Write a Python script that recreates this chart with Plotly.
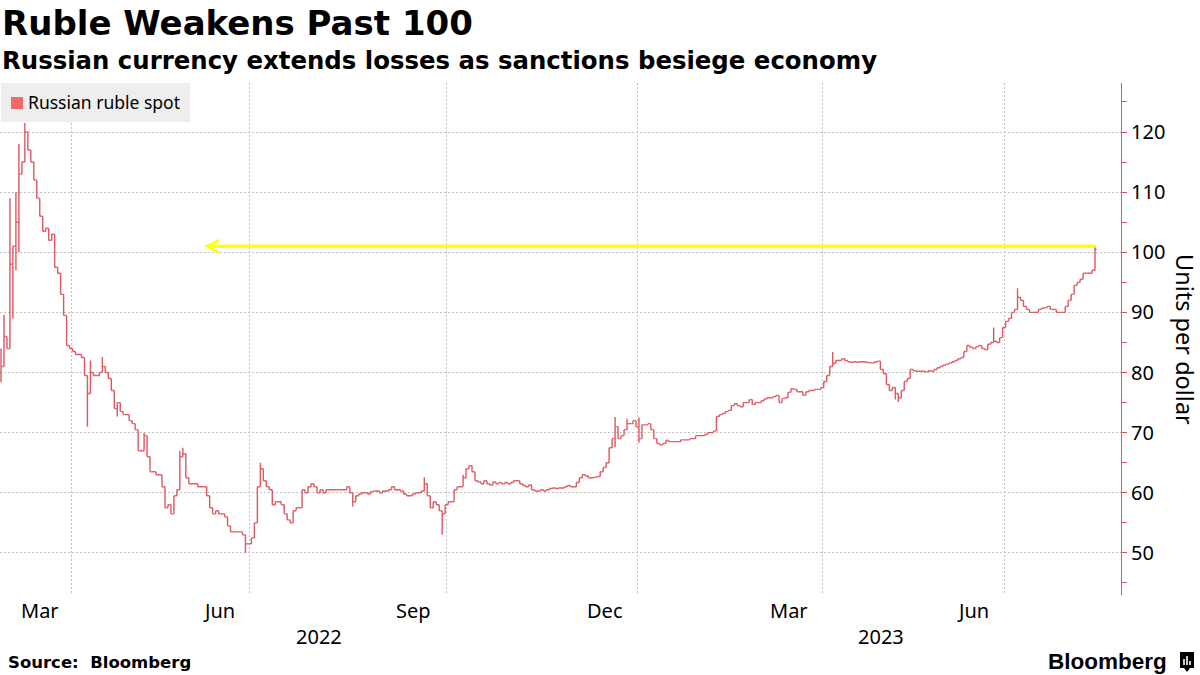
import plotly.graph_objects as go

# ---------------- data (daily closes) ----------------
close_2022_02 = [81.0, 86.0, 84.0]
close_2022_03 = [98, 101, 105, 113, 115, 120, 117, 115, 112, 109, 106, 103.5, 104, 102, 103,
                 97.5, 96.5, 93, 89.5, 84.5, 84]
close_2022_04 = [83.5, 83, 83, 82.5, 79.5, 76.5, 80, 79.5, 79.5, 80, 81, 80, 79, 77, 74, 75,
                 73.5, 73, 73, 72, 71.5]
close_2022_05 = [70.5, 67, 67, 69.5, 66, 63.5, 63.5, 63, 63, 61, 57.5, 58, 56.5, 59.5, 60.5,
                 66, 66.5, 62.5]
close_2022_06 = [61.5, 61.5, 61.5, 61, 61, 61, 59.5, 57.5, 56.5, 57, 56.5, 56.5, 56, 54.5,
                 53.5, 53.5, 53.5, 53.5, 53, 51.5, 51.5]
close_2022_07 = [52.5, 55, 61, 64, 62, 61, 60.5, 58, 58.5, 58.5, 58, 56.5, 55.5, 55, 57, 57.5,
                 57.5, 60.5, 60, 61, 61.5]
close_2022_08 = [61, 60, 60.5, 60, 60.5, 60.5, 60.5, 60.5, 60.5, 60.5, 60.5, 61, 60, 58.5,
                 59.5, 59.8, 60, 60, 59.8, 60.2, 60.3, 60.3, 60]
close_2022_09 = [60.3, 60.3, 60.5, 61, 60.5, 60.5, 60.3, 59.8, 59.5, 59.5, 59.8, 60, 60, 60.3,
                 61.5, 59.5, 57.5, 58.5, 58, 57, 56.5, 58]
close_2022_10 = [58.5, 58.5, 60.5, 61, 61, 62.5, 64, 64.5, 63.5, 62, 61.8, 61.5, 62, 61.5,
                 61.3, 61.8, 61.5, 61.7, 61.5, 61.7, 61.5]
close_2022_11 = [61.7, 62, 62, 61.5, 61.2, 61, 61.3, 60.5, 60.3, 60.3, 60.5, 60.3, 60.5, 60.7,
                 60.8, 60.7, 60.8, 60.8, 61, 61.2, 61]
close_2022_12 = [61, 61.7, 62.5, 63, 62.8, 62.5, 62.5, 62.6, 62.7, 63.5, 64.2, 65, 67.5, 69,
                 71, 69, 69.5, 70.5, 71.5, 71.5, 72, 71]
close_2023_01 = [69, 71.3, 71.3, 71.5, 70.5, 69, 68.2, 68, 68.2, 68.7, 68.5, 68.5, 68.5, 68.5,
                 68.8, 68.8, 68.8, 69, 69, 69.5, 69.5, 69.5]
close_2023_02 = [69.7, 70, 70, 70.3, 72.7, 73, 73.2, 73.5, 73.7, 74.5, 74.8, 74.5, 74.3, 75,
                 75, 75.5, 74.7, 75]
close_2023_03 = [75, 75.3, 75.6, 75.8, 75.8, 76, 76.2, 75, 75.7, 75.8, 76.7, 77.3, 77.2, 76.8,
                 76.8, 76.2, 76.8, 77, 77, 77.2, 77.2, 77.5]
close_2023_04 = [78.5, 79.5, 81, 81.5, 82, 82, 82.3, 82, 81.8, 81.7, 81.8, 81.7, 81.8, 81.8,
                 81.7, 81.6, 81.6, 81.8, 81.9, 80.5]
close_2023_05 = [79.8, 78, 77, 77.5, 76.5, 75.8, 77, 78.5, 79, 80.5, 80.3, 80.2, 80.2, 80.2,
                 80.1, 80.3, 80.2, 80.5, 80.8, 81]
close_2023_06 = [81.2, 81.4, 81.6, 81.8, 82, 82.3, 82.5, 83.5, 84.5, 84.2, 84, 84.3, 84.5, 84,
                 83.8, 84.7, 85, 85.2, 85, 85.8, 87.5]
close_2023_07 = [88.5, 89, 90, 90.5, 92.5, 92, 91, 90.5, 90, 90, 90, 90.5, 90.7, 90.8, 91,
                 90.5, 90.5, 90, 90, 90, 91]
close_2023_08 = [92, 93, 94.5, 95, 95.5, 96.5, 96.5, 96.5, 97, 100.5]

first_open = 80.0
# intraday extremes that reach beyond the open/close of a bar (bar number -> value)
spike_high = {0: 84, 1: 89.6, 3: 109, 5: 110, 6: 118, 8: 121.5, 9: 118.3, 10: 116.7,
              12: 110, 20: 96.5, 29: 77, 30: 82, 34: 82.6, 48: 70, 60: 67, 61: 67.5,
              87: 65, 142: 62.6, 155: 63, 206: 72.6, 210: 72.3, 214: 72.5, 279: 83.4,
              333: 87.5, 341: 94, 367: 101}
spike_low = {0: 78.4, 3: 89, 4: 89, 5: 97, 6: 100, 29: 71, 39: 72.7, 82: 50, 118: 57.7,
             148: 53, 206: 67.6, 214: 68.3, 300: 75.5, 301: 75.1}

months = ["2022-02", "2022-03", "2022-04", "2022-05", "2022-06", "2022-07", "2022-08",
          "2022-09", "2022-10", "2022-11", "2022-12", "2023-01", "2023-02", "2023-03",
          "2023-04", "2023-05", "2023-06", "2023-07", "2023-08"]
month_closes = [close_2022_02, close_2022_03, close_2022_04, close_2022_05, close_2022_06,
                close_2022_07, close_2022_08, close_2022_09, close_2022_10, close_2022_11,
                close_2022_12, close_2023_01, close_2023_02, close_2023_03, close_2023_04,
                close_2023_05, close_2023_06, close_2023_07, close_2023_08]

label_months = [("2022-03", "Mar"), ("2022-06", "Jun"), ("2022-09", "Sep"),
                ("2022-12", "Dec"), ("2023-03", "Mar"), ("2023-06", "Jun")]
grid_months = ["2022-04", "2022-07", "2022-10", "2023-01", "2023-04", "2023-07"]
year_labels = ["2022", "2023"]
y_ticks = [50, 60, 70, 80, 90, 100, 110, 120]
y_minor = [45, 55, 65, 75, 85, 95, 105, 115, 125]
arrow_level = 101.0

# ---------------- build series ----------------
closes, m_start, m_end = [], {}, {}
for m, arr in zip(months, month_closes):
    m_start[m] = len(closes)
    closes.extend(arr)
    m_end[m] = len(closes) - 1
n = len(closes)
xs = list(range(n))
opens = [first_open] + closes[:-1]
highs = [max(o, c) for o, c in zip(opens, closes)]
lows = [min(o, c) for o, c in zip(opens, closes)]
for i, v in spike_high.items():
    highs[i] = max(highs[i], v)
for i, v in spike_low.items():
    lows[i] = min(lows[i], v)

# ---------------- geometry ----------------
W, H = 1200, 675
PL, PR, PT, PB = 0, 1121, 83, 595
STEP = 2.981           # px per bar
X0 = 1.0               # px of bar 0
x_left = (PL - X0) / STEP
x_right = (PR - X0) / STEP
y_lo, y_hi = 43.0, 128.15


def px(v):
    return (v - PL) / (PR - PL)


def py(v):
    return (PB - v) / (PB - PT)


RED = "#de5862"
GRID = "#c2c2c2"
FONT = "Noto Sans"
BOLD = "DejaVu Sans"

fig = go.Figure()
fig.add_trace(go.Ohlc(
    x=xs, open=opens, high=highs, low=lows, close=closes,
    increasing=dict(line=dict(color=RED, width=1.4)),
    decreasing=dict(line=dict(color=RED, width=1.4)),
    tickwidth=0.5, showlegend=False, hoverinfo="skip"))

# arrow-like major tick markers on the right axis
fig.add_trace(go.Scatter(
    x=[x_right + 1.1] * len(y_ticks), y=y_ticks, mode="markers",
    marker=dict(symbol="triangle-right", size=7, color=RED),
    cliponaxis=False, showlegend=False, hoverinfo="skip"))

grid_x = [m_start[m] - 0.5 for m in grid_months]
label_pos = {}
for m, lab in label_months:
    label_pos[m] = (m_start[m] + m_end[m]) / 2

annotations = []
for m, lab in label_months:
    annotations.append(dict(x=label_pos[m], xref="x", y=py(610), yref="paper",
                            text=lab, showarrow=False, xanchor="center", yanchor="middle",
                            font=dict(family=FONT, size=20, color="#000")))
for yr in year_labels:
    pos = [label_pos[m] for m, _ in label_months if m.startswith(yr)]
    annotations.append(dict(x=sum(pos) / len(pos), xref="x", y=py(636), yref="paper",
                            text=yr, showarrow=False, xanchor="center", yanchor="middle",
                            font=dict(family=FONT, size=20, color="#000")))

# yellow arrow
annotations.append(dict(x=(204 - X0) / STEP, y=arrow_level, xref="x", yref="y",
                        ax=(1097 - X0) / STEP, ay=arrow_level, axref="x", ayref="y",
                        text="", showarrow=True, arrowhead=5, arrowsize=0.72,
                        arrowwidth=3.5, arrowcolor="#ffff10", standoff=0, startstandoff=0))

annotations += [
    dict(x=px(1185), y=0.5, xref="paper", yref="paper", text="Units per dollar",
         textangle=90, showarrow=False, xanchor="center", yanchor="middle",
         font=dict(family=FONT, size=23.5, color="#000")),
    dict(x=px(0), y=py(23), xref="paper", yref="paper", text="<b>Ruble Weakens Past 100</b>",
         showarrow=False, xanchor="left", yanchor="middle",
         font=dict(family=BOLD, size=34, color="#000")),
    dict(x=px(0), y=py(60), xref="paper", yref="paper",
         text="<b>Russian currency extends losses as sanctions besiege economy</b>",
         showarrow=False, xanchor="left", yanchor="middle",
         font=dict(family=BOLD, size=24.4, color="#000")),
    dict(x=px(26), y=py(102), xref="paper", yref="paper", text="Russian ruble spot",
         showarrow=False, xanchor="left", yanchor="middle",
         font=dict(family=FONT, size=17.5, color="#000")),
    dict(x=px(6), y=py(662), xref="paper", yref="paper", text="<b>Source:  Bloomberg</b>",
         showarrow=False, xanchor="left", yanchor="middle",
         font=dict(family=BOLD, size=16.5, color="#000")),
    dict(x=px(1169), y=py(661), xref="paper", yref="paper", text="<b>Bloomberg</b>",
         showarrow=False, xanchor="right", yanchor="middle",
         font=dict(family="Liberation Sans", size=22.5, color="#000")),
]

shapes = [
    dict(type="rect", xref="paper", yref="paper", x0=px(1), x1=px(190), y0=py(122), y1=py(83),
         fillcolor="#eeeeee", line=dict(width=0), layer="above"),
    dict(type="rect", xref="paper", yref="paper", x0=px(11), x1=px(23), y0=py(109), y1=py(97),
         fillcolor="#f46a6a", line=dict(width=0), layer="above"),
    # Bloomberg mark
    dict(type="rect", xref="paper", yref="paper", x0=px(1180), x1=px(1194), y0=py(668), y1=py(652),
         fillcolor="#000", line=dict(width=0), layer="above"),
    dict(type="path", xref="paper", yref="paper",
         path=f"M {px(1184)} {py(668)} L {px(1187)} {py(672)} L {px(1190)} {py(668)} Z",
         fillcolor="#000", line=dict(width=0), layer="above"),
]
for bx, top in [(1184, 659), (1187, 656), (1190, 661)]:
    shapes.append(dict(type="line", xref="paper", yref="paper", x0=px(bx), x1=px(bx),
                       y0=py(665), y1=py(top), line=dict(color="#fff", width=1.6), layer="above"))

fig.update_layout(
    width=W, height=H,
    margin=dict(l=PL, r=W - PR, t=PT, b=H - PB, pad=0),
    paper_bgcolor="white", plot_bgcolor="white",
    showlegend=False,
    xaxis=dict(range=[x_left, x_right], type="linear", tickvals=grid_x,
               showticklabels=False, ticks="", showgrid=True, gridcolor=GRID,
               griddash="2px,2px", gridwidth=1, zeroline=False, showline=False,
               rangeslider=dict(visible=False), fixedrange=True),
    yaxis=dict(range=[y_lo, y_hi], side="right", tickvals=y_ticks,
               ticks="outside", ticklen=5, tickcolor=RED, tickwidth=1,
               showline=True, linecolor=RED, linewidth=1,
               showgrid=True, gridcolor=GRID, griddash="2px,2px", gridwidth=1,
               zeroline=False, tickfont=dict(family=FONT, size=20, color="#000"),
               minor=dict(tickvals=y_minor, ticks="outside", ticklen=5, tickcolor=RED,
                          showgrid=False),
               fixedrange=True),
    annotations=annotations,
    shapes=shapes,
)

# the page's default body margin would shift the figure; remove it
fig.write_html("out.html", config={"displayModeBar": False},
               post_script="document.body.style.margin='0';document.body.style.overflow='hidden';")
